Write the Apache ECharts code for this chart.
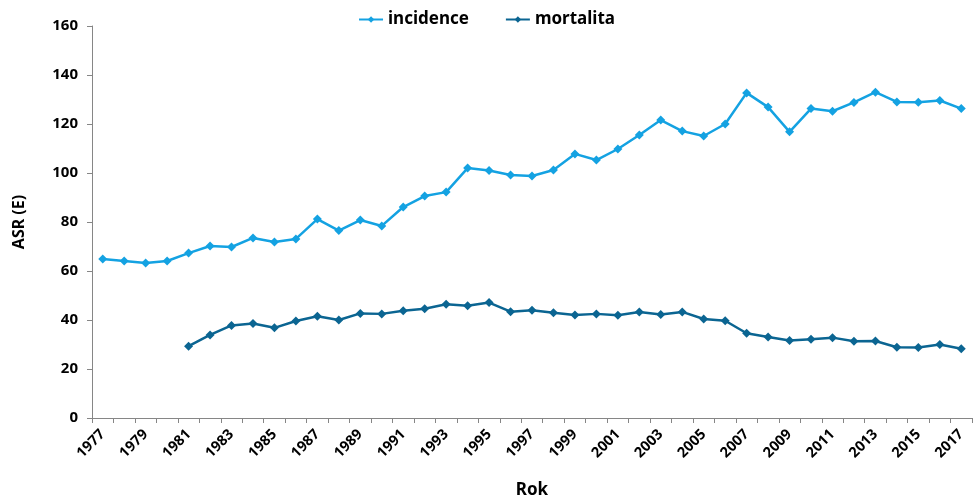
<!DOCTYPE html>
<html>
<head>
<meta charset="utf-8">
<script src="https://cdn.jsdelivr.net/npm/echarts@6/dist/echarts.min.js"></script>
<style>
  html, body { margin: 0; padding: 0; background: #fff; }
  #chart { width: 973px; height: 499px; }
</style>
</head>
<body>
<div id="chart"></div>
<script>
// roky 1977 - 2017
var years = [];
for (var y = 1977; y <= 2017; y++) years.push(String(y));

var incidence = [64.9, 64.1, 63.3, 64.1, 67.3, 70.2, 69.8, 73.5, 71.8, 73.1,
  81.2, 76.5, 80.8, 78.4, 86.1, 90.6, 92.2, 102.0, 101.0, 99.2,
  98.8, 101.2, 107.8, 105.3, 109.8, 115.5, 121.6, 117.1, 115.1, 120.0,
  132.7, 126.9, 116.8, 126.3, 125.2, 128.8, 133.0, 129.0, 128.9, 129.6, 126.3];

var mortalita = [null, null, null, null, 29.3, 33.9, 37.8, 38.6, 36.8, 39.6,
  41.5, 40.0, 42.7, 42.5, 43.8, 44.6, 46.4, 45.8, 47.1, 43.4,
  44.0, 43.0, 42.0, 42.5, 41.9, 43.3, 42.2, 43.3, 40.4, 39.7,
  34.6, 33.1, 31.6, 32.1, 32.8, 31.3, 31.4, 28.9, 28.8, 30.0, 28.3];

var yTicks = [0, 20, 40, 60, 80, 100, 120, 140, 160];

var font = 'Noto Sans';
var cInc = '#14a2e2';
var cMort = '#0b6592';

var myChart = echarts.init(document.getElementById('chart'));

var option = {
  animation: false,
  textStyle: { fontFamily: font },
  legend: {
    top: 6,
    left: 'center',
    itemGap: 36,
    itemWidth: 24,
    itemHeight: 8,
    textStyle: { fontFamily: font, fontWeight: 'bold', fontSize: 17, color: '#000' },
    data: ['incidence', 'mortalita']
  },
  grid: { left: 92, right: 1, top: 26, bottom: 81, outerBoundsMode: 'none', containLabel: false },
  xAxis: {
    type: 'category',
    data: years,
    boundaryGap: true,
    name: 'Rok',
    nameLocation: 'middle',
    nameGap: 64,
    nameTextStyle: { fontFamily: font, fontWeight: 'bold', fontSize: 17, color: '#000' },
    axisLine: { lineStyle: { color: '#868686', width: 1 } },
    axisTick: { show: true, interval: 0, length: 5, lineStyle: { color: '#868686' } },
    axisLabel: {
      interval: 1,
      rotate: 45,
      margin: 14,
      fontFamily: font,
      fontWeight: 'bold',
      fontSize: 14.5,
      color: '#000'
    }
  },
  yAxis: {
    type: 'value',
    min: yTicks[0],
    max: yTicks[yTicks.length - 1],
    interval: 20,
    name: 'ASR (E)',
    nameLocation: 'middle',
    nameRotate: 90,
    nameGap: 65,
    nameTextStyle: { fontFamily: font, fontWeight: 'bold', fontSize: 16, color: '#000' },
    axisLine: { show: true, lineStyle: { color: '#868686', width: 1 } },
    axisTick: { show: true, length: 5, lineStyle: { color: '#868686' } },
    splitLine: { show: false },
    axisLabel: {
      margin: 14,
      fontFamily: font,
      fontWeight: 'bold',
      fontSize: 15,
      color: '#000'
    }
  },
  series: [
    {
      name: 'incidence',
      type: 'line',
      data: incidence,
      symbol: 'diamond',
      symbolSize: 9,
      itemStyle: { color: cInc },
      lineStyle: { color: cInc, width: 2.5 }
    },
    {
      name: 'mortalita',
      type: 'line',
      data: mortalita,
      symbol: 'diamond',
      symbolSize: 9,
      itemStyle: { color: cMort },
      lineStyle: { color: cMort, width: 2.5 }
    }
  ]
};

myChart.setOption(option, true);
</script>
</body>
</html>
